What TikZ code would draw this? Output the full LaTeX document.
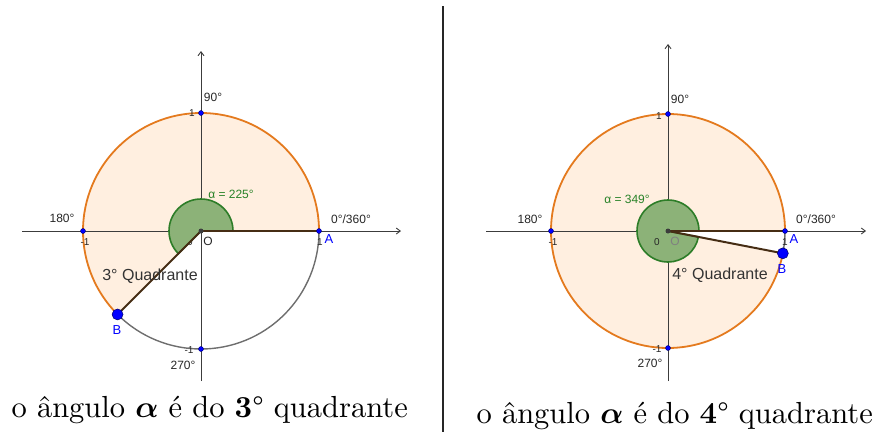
\documentclass[tikz,border=0pt]{standalone}
\usepackage{amsmath,bm}
\usepackage{fontspec}
\newfontfamily\ggfont{Liberation Sans}
\usetikzlibrary{arrows.meta,calc}
\definecolor{peach}{RGB}{255,239,224}
\definecolor{orng}{RGB}{228,122,30}
\definecolor{angfill}{RGB}{140,178,120}
\definecolor{angdraw}{RGB}{45,125,40}
\definecolor{angtext}{RGB}{40,130,40}
\definecolor{segcol}{RGB}{70,45,20}
\definecolor{axcol}{RGB}{60,60,60}
\definecolor{arcgray}{RGB}{110,110,110}
\tikzset{
  axis/.style={draw=axcol,line width=0.9pt,-{Straight Barb[length=4pt,width=6pt]}},
  grayarc/.style={draw=arcgray,line width=1.4pt},
  orangearc/.style={draw=orng,line width=1.8pt},
  angsector/.style={fill=angfill,draw=angdraw,line width=1.6pt},
  seg/.style={draw=segcol,line width=2pt},
  smalldot/.style={circle,fill=blue,draw=blue!40!black,line width=0.4pt,inner sep=0pt,minimum size=5pt},
  bigdot/.style={circle,fill=blue,draw=blue!40!black,line width=0.5pt,inner sep=0pt,minimum size=11pt},
  odot/.style={circle,fill=axcol,inner sep=0pt,minimum size=5pt},
  lbl/.style={font=\ggfont\fontsize{12}{14}\selectfont,text=black!85,inner sep=0pt},
  tick/.style={font=\ggfont\fontsize{10}{12}\selectfont,text=black!85,inner sep=0pt},
  ptlbl/.style={font=\ggfont\fontsize{13}{15}\selectfont,text=blue,inner sep=0pt},
  anglbl/.style={font=\ggfont\fontsize{12}{14}\selectfont,text=angtext,inner sep=0pt},
  quad/.style={font=\ggfont\fontsize{16}{18}\selectfont,text=black!80,inner sep=0pt},
  caption/.style={font=\fontsize{10}{12}\selectfont,inner sep=0pt,anchor=base west,scale=3.05},
}
\begin{document}
\begin{tikzpicture}[x=1pt,y=1pt]
\useasboundingbox (0,0) rectangle (876,-432);
% ---------------- left diagram ----------------
\coordinate (O1) at (201,-231);
\coordinate (A1) at ($(O1)+(0:118)$);
\coordinate (B1) at ($(O1)+(225:118)$);
\coordinate (P90a) at ($(O1)+(90:118)$);
\coordinate (P180a) at ($(O1)+(180:118)$);
\coordinate (P270a) at ($(O1)+(270:118)$);
\coordinate (xl1) at (22,-231);
\coordinate (xr1) at (401,-231);
\coordinate (yb1) at (201,-381);
\coordinate (yt1) at (201,-51);
\fill[peach] (O1) -- (A1) arc[start angle=0,end angle=225,radius=118] -- cycle;
\draw[axis] (xl1) -- (xr1);
\draw[axis] (yb1) -- (yt1);
\draw[grayarc] (B1) arc[start angle=225,end angle=360,radius=118];
\draw[orangearc] (A1) arc[start angle=0,end angle=225,radius=118];
\node[tick] (z1) at (190,-242) {0};
\draw[angsector] (O1) -- ++(0:32) arc[start angle=0,end angle=225,radius=32] -- cycle;
\draw[seg] (O1) -- (A1);
\draw[seg] (O1) -- (B1);
\node[odot] (o1) at (O1) {};
\node[smalldot] (a1) at (A1) {};
\node[smalldot] (t1) at (P90a) {};
\node[smalldot] (l1) at (P180a) {};
\node[smalldot] (d1) at (P270a) {};
\node[bigdot] (b1) at (B1) {};
\node[lbl] at (213,-97) {90°};
\node[tick] at (192,-113) {1};
\node[lbl] at (62,-218) {180°};
\node[tick] at (85,-242) {-1};
\node[lbl] at (351,-219) {0°/360°};
\node[tick] at (320,-242) {1};
\node[ptlbl] at (329,-239) {A};
\node[lbl] at (208,-241) {O};
\node[anglbl] at (231,-194) {α = 225°};
\node[quad] at (150,-276) {3° Quadrante};
\node[ptlbl] at (117,-330) {B};
\node[tick] at (189,-350) {-1};
\node[lbl] at (183,-365) {270°};
% ---------------- right diagram ----------------
\coordinate (O2) at (668,-231);
\coordinate (A2) at ($(O2)+(0:117)$);
\coordinate (B2) at ($(O2)+(349:117)$);
\coordinate (P90b) at ($(O2)+(90:117)$);
\coordinate (P180b) at ($(O2)+(180:117)$);
\coordinate (P270b) at ($(O2)+(270:117)$);
\coordinate (xl2) at (486,-231);
\coordinate (xr2) at (866,-231);
\coordinate (yb2) at (668,-381);
\coordinate (yt2) at (668,-44);
\fill[peach] (O2) -- (A2) arc[start angle=0,end angle=349,radius=117] -- cycle;
\draw[axis] (xl2) -- (xr2);
\draw[axis] (yb2) -- (yt2);
\draw[grayarc] (B2) arc[start angle=349,end angle=360,radius=117];
\draw[orangearc] (A2) arc[start angle=0,end angle=349,radius=117];
\draw[angsector] (O2) -- ++(0:31) arc[start angle=0,end angle=349,radius=31] -- cycle;
\node[tick] (z2) at (657,-242) {0};
\node[lbl,text=black!50] at (675,-241) {O};
\draw[seg] (O2) -- (A2);
\draw[seg] (O2) -- (B2);
\node[odot] (o2) at (O2) {};
\node[smalldot] (a2) at (A2) {};
\node[smalldot] (t2) at (P90b) {};
\node[smalldot] (l2) at (P180b) {};
\node[smalldot] (d2) at (P270b) {};
\node[bigdot] (b2) at (B2) {};
\node[lbl] at (680,-99) {90°};
\node[tick] at (659,-116) {1};
\node[lbl] at (530,-219) {180°};
\node[tick] at (553,-242) {-1};
\node[lbl] at (816,-219) {0°/360°};
\node[tick] at (785,-242) {1};
\node[ptlbl] at (794,-239) {A};
\node[anglbl] at (627,-199) {α = 349°};
\node[quad] at (720,-275) {4° Quadrante};
\node[ptlbl] at (782,-269) {B};
\node[tick] at (657,-349) {-1};
\node[lbl] at (650,-363) {270°};
% ---------------- divider and captions ----------------
\coordinate (dtop) at (443,-6);
\coordinate (dbot) at (443,-432);
\draw[line width=1.3pt,black!85] (dtop) -- (dbot);
\node[caption] (c1) at (11,-417) {o ângulo $\bm{\alpha}$ é do \textbf{3}° quadrante};
\node[caption] (c2) at (476,-423) {o ângulo $\bm{\alpha}$ é do \textbf{4}° quadrante};
\end{tikzpicture}
\end{document}
